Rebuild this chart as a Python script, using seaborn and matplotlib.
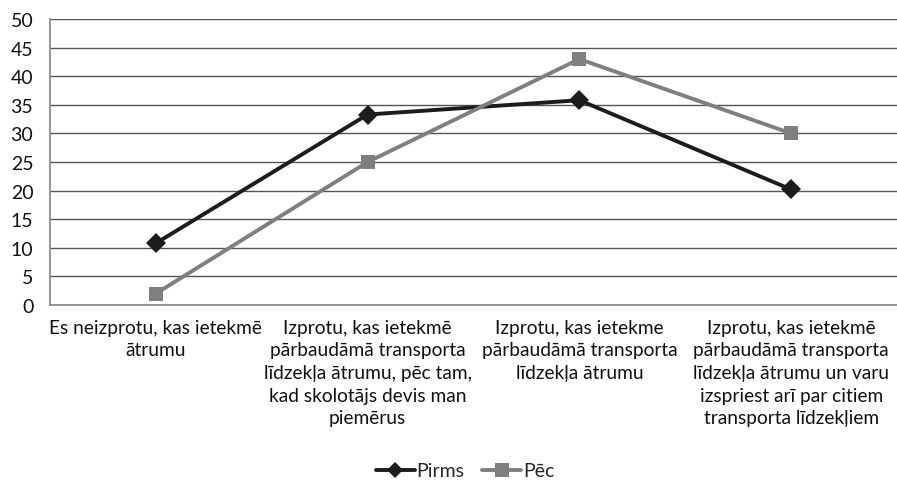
import matplotlib
matplotlib.use("Agg")
import matplotlib.pyplot as plt
import seaborn as sns
import pandas as pd
from matplotlib.lines import Line2D

categories = [
    "Es neizprotu, kas ietekmē\nātrumu",
    "Izprotu, kas ietekmē\npārbaudāmā transporta\nlīdzekļa ātrumu, pēc tam,\nkad skolotājs devis man\npiemērus",
    "Izprotu, kas ietekme\npārbaudāmā transporta\nlīdzekļa ātrumu",
    "Izprotu, kas ietekmē\npārbaudāmā transporta\nlīdzekļa ātrumu un varu\nizspriest arī par citiem\ntransporta līdzekļiem",
]
pirms = [10.8, 33.3, 35.8, 20.2]
pec = [2.0, 25.0, 43.0, 30.0]
series_names = ["Pirms", "Pēc"]

sns.set_theme(style="white")
plt.rcParams["font.family"] = ["Lato", "DejaVu Sans"]

df = pd.DataFrame({
    "x": list(range(len(categories))) * 2,
    "value": pirms + pec,
    "series": [series_names[0]] * len(pirms) + [series_names[1]] * len(pec),
})

fig = plt.figure(figsize=(8.97, 4.85), dpi=100)
ax = fig.add_axes([50 / 897, 1 - 306 / 485, 847 / 897, 286 / 485])

palette = {"Pirms": "#1c1c1c", "Pēc": "#7f7f7f"}
markers = {"Pirms": "D", "Pēc": "s"}
sns.lineplot(data=df, x="x", y="value", hue="series", style="series",
             markers=markers, dashes=False, palette=palette,
             linewidth=2.8, markersize=10.5, markeredgewidth=0,
             ax=ax, legend=False)

ax.set_xlim(-0.5, 3.5)
ax.set_ylim(0, 50)
ax.set_yticks(range(0, 51, 5))
ax.yaxis.grid(True, color="#555555", linewidth=1)
ax.set_axisbelow(True)
for s in ["top", "right"]:
    ax.spines[s].set_visible(False)
ax.spines["left"].set_color("#888888")
ax.spines["bottom"].set_color("#888888")
ax.set_xlabel("")
ax.set_ylabel("")
ax.set_xticks(range(len(categories)))
ax.set_xticklabels(categories, fontsize=13.8, linespacing=1.4, va="top")
ax.tick_params(axis="y", labelsize=14, length=0, pad=12, colors="#111111")
ax.tick_params(axis="x", length=0, pad=10, colors="#111111")

handles = [
    Line2D([], [], color=palette["Pirms"], marker="D", markersize=8, linewidth=2.8, markeredgewidth=0),
    Line2D([], [], color=palette["Pēc"], marker="s", markersize=10, linewidth=2.8, markeredgewidth=0),
]
fig.legend(handles, series_names, loc="center", bbox_to_anchor=(465 / 897, 1 - 472 / 485),
           ncol=2, frameon=False, fontsize=14, handlelength=2.0, handletextpad=0.1,
           columnspacing=0.9)

fig.savefig("out.png", dpi=100)
